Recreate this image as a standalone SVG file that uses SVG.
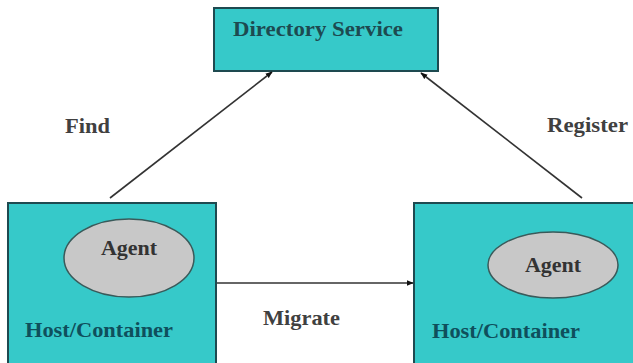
<svg xmlns="http://www.w3.org/2000/svg" width="633" height="363" viewBox="0 0 633 363">
<style>
.box{fill:#36c9c9;stroke:#1e4a50;stroke-width:2}
.agent{fill:#c8c8c8;stroke:#3a5a5a;stroke-width:1.5}
.t{font-family:"Liberation Serif","Times New Roman",serif;font-weight:bold;font-size:22px}
.host{fill:#0f4f5c}
.lbl{fill:#404040}
.ag{fill:#333}
.conn{stroke:#333;stroke-width:1.6;fill:none;marker-end:url(#ah)}
</style>
<defs>
<marker id="ah" viewBox="0 0 10 10" refX="9" refY="5" markerWidth="7" markerHeight="7" orient="auto" markerUnits="userSpaceOnUse">
<path d="M0,1 L10,5 L0,9 z" fill="#111"/>
</marker>
</defs>
<rect width="633" height="363" fill="#fff"/>
<g id="directory">
<rect class="box" x="214" y="8" width="224" height="63"/>
<text class="t" x="233" y="36" fill="#1d4a50" textLength="170" lengthAdjust="spacingAndGlyphs">Directory Service</text>
</g>
<g id="host-left">
<rect class="box" x="8" y="203" width="208" height="170"/>
<ellipse class="agent" cx="129" cy="258" rx="65" ry="39"/>
<text class="t ag" x="129" y="255" text-anchor="middle">Agent</text>
<text class="t host" x="25" y="337" textLength="148" lengthAdjust="spacingAndGlyphs">Host/Container</text>
</g>
<g id="host-right">
<rect class="box" x="414" y="203" width="230" height="170"/>
<ellipse class="agent" cx="553" cy="265" rx="65" ry="33"/>
<text class="t ag" x="553" y="272" text-anchor="middle">Agent</text>
<text class="t host" x="432" y="338" textLength="148" lengthAdjust="spacingAndGlyphs">Host/Container</text>
</g>
<g id="connectors">
<line class="conn" x1="110" y1="198" x2="272" y2="72"/>
<line class="conn" x1="582" y1="198" x2="421" y2="73"/>
<line class="conn" x1="217" y1="283" x2="413" y2="283"/>
</g>
<g id="labels">
<text class="t lbl" x="65" y="133" textLength="45" lengthAdjust="spacingAndGlyphs">Find</text>
<text class="t lbl" x="547" y="132" textLength="81" lengthAdjust="spacingAndGlyphs">Register</text>
<text class="t lbl" x="263" y="325" textLength="77" lengthAdjust="spacingAndGlyphs">Migrate</text>
</g>
</svg>
